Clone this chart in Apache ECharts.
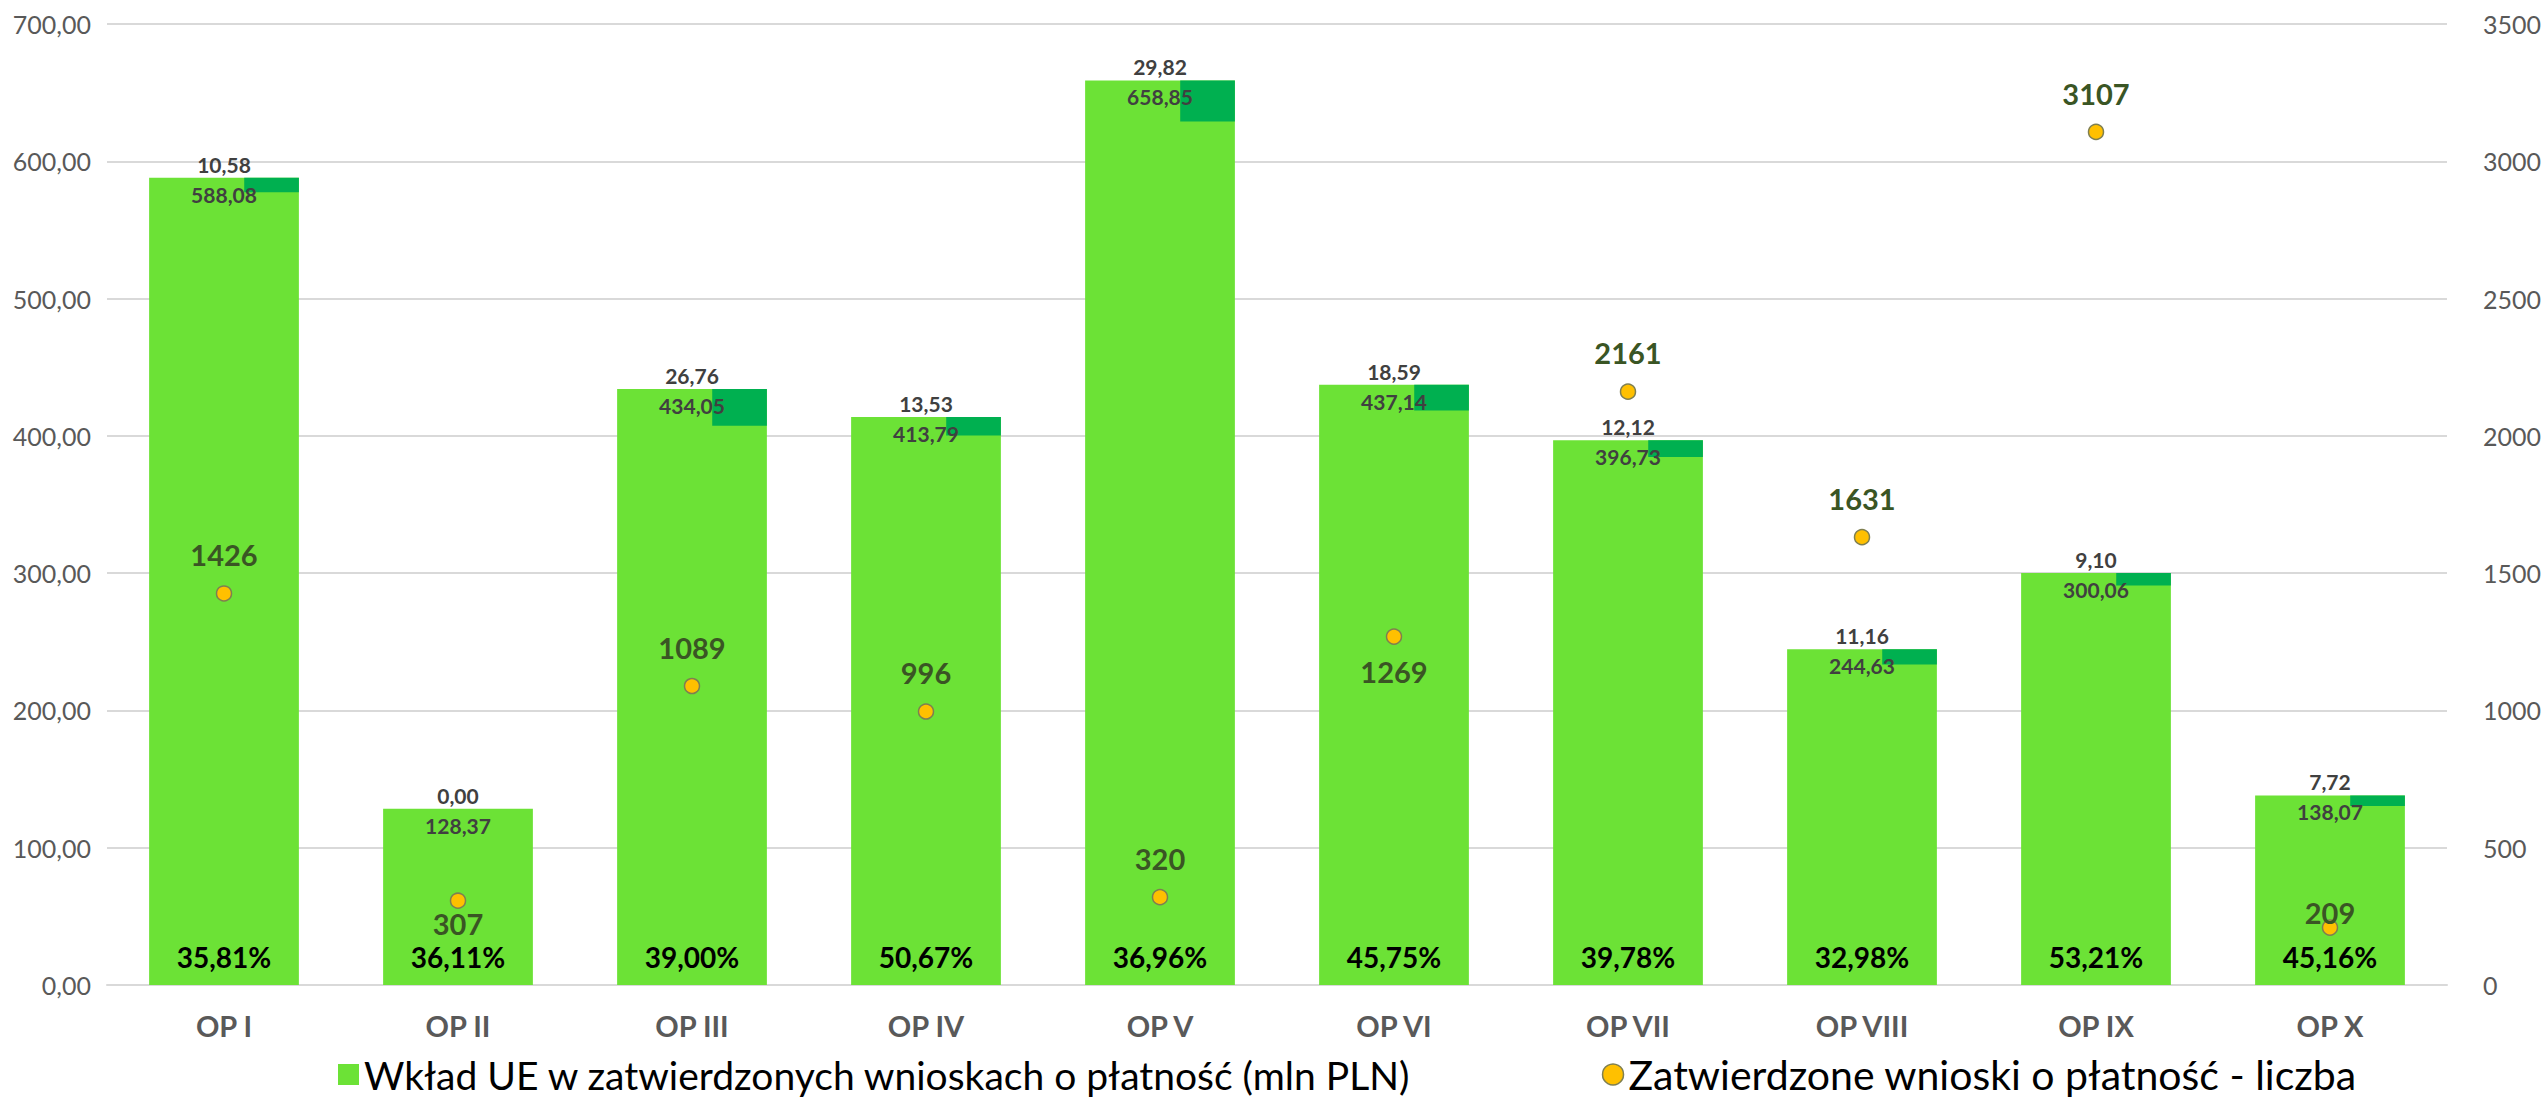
<!DOCTYPE html>
<html>
<head>
<meta charset="utf-8">
<script src="https://cdn.jsdelivr.net/npm/echarts@6/dist/echarts.min.js"></script>
<style>
html,body{margin:0;padding:0;background:#fff;}
#c{width:2544px;height:1108px;}
</style>
</head>
<body>
<div id="c"></div>
<script>
const categories = ['OP I','OP II','OP III','OP IV','OP V','OP VI','OP VII','OP VIII','OP IX','OP X'];
const totals = [588.08,128.37,434.05,413.79,658.85,437.14,396.73,244.63,300.06,138.07];
const darkPart = [10.58,0.00,26.76,13.53,29.82,18.59,12.12,11.16,9.10,7.72];
const percents = ['35,81%','36,11%','39,00%','50,67%','36,96%','45,75%','39,78%','32,98%','53,21%','45,16%'];
const counts = [1426,307,1089,996,320,1269,2161,1631,3107,209];
const leftTicks = [0,100,200,300,400,500,600,700];
const rightTicks = [0,500,1000,1500,2000,2500,3000,3500];
const seriesNames = ['Wkład UE w zatwierdzonych wnioskach o płatność (mln PLN)','Zatwierdzone wnioski o płatność - liczba'];
// label placement style for count labels
const countLabelPos = ['top','bottom','top','top','top','bottom','top','top','top','top'];
const countLabelDist = [16,0,16,16,16,12,16,16,16,-8];

const FONT = 'Lato, "Noto Sans", sans-serif';
const fmt2 = v => v.toFixed(2).replace('.', ',');
const BAR_W = 0.64;
const transparentBar = {type:'bar',barWidth:(BAR_W*100)+'%',barGap:'-100%',itemStyle:{color:'rgba(0,0,0,0)'},silent:true};

const chart = echarts.init(document.getElementById('c'), null, {renderer:'svg'});
const option = {
  animation:false,
  textStyle:{fontFamily:FONT},
  grid:{left:107,right:88,top:24,bottom:123,containLabel:false},
  legend:{
    left:333, bottom:8, itemGap:190, itemWidth:21, itemHeight:21,
    textStyle:{fontSize:39,color:'#000',fontFamily:FONT},
    data:[{name:seriesNames[0],icon:'rect'},
          {name:seriesNames[1],icon:'circle',textStyle:{fontSize:41},itemStyle:{color:'#FFC000',borderColor:'#7F7F50',borderWidth:1.5}}]
  },
  xAxis:{
    type:'category', data:categories,
    axisLine:{show:true,lineStyle:{color:'#d9d9d9',width:2}},
    axisTick:{show:false},
    axisLabel:{fontSize:29,fontWeight:'bold',color:'#595959',margin:26,fontFamily:FONT}
  },
  yAxis:[
    {type:'value',min:leftTicks[0],max:leftTicks[leftTicks.length-1],interval:100,
     axisLine:{show:false},axisTick:{show:false},
     splitLine:{lineStyle:{color:'#d9d9d9',width:2}},
     axisLabel:{fontSize:25,color:'#595959',margin:16,formatter:v=>fmt2(v),fontFamily:FONT}},
    {type:'value',min:rightTicks[0],max:rightTicks[rightTicks.length-1],interval:500,
     axisLine:{show:false},axisTick:{show:false},splitLine:{show:false},
     axisLabel:{fontSize:25,color:'#595959',margin:36,formatter:v=>String(v),fontFamily:FONT}}
  ],
  series:[
    {name:seriesNames[0],type:'bar',data:totals,barWidth:(BAR_W*100)+'%',barGap:'-100%',z:2,
     itemStyle:{color:'#6CE236'}},
    {name:'dark',type:'custom',z:3,
     data:totals.map((t,i)=>[i,t,darkPart[i]]),
     renderItem:function(params,api){
       const idx=api.value(0),t=api.value(1),d=api.value(2);
       const top=api.coord([idx,t]); const bot=api.coord([idx,t-d]);
       const band=api.size([1,0])[0]; const bw=band*BAR_W; const w=bw*0.365;
       return {type:'rect',shape:{x:top[0]+bw/2-w,y:top[1],width:w,height:bot[1]-top[1]},style:{fill:'#00B050'}};
     }},
    Object.assign({name:'inlab',data:totals,z:6,
     label:{show:true,position:'insideTop',distance:6,formatter:p=>fmt2(p.value),overflow:'none',
            fontSize:21,fontWeight:'bold',color:'#404040',fontFamily:FONT}},transparentBar),
    Object.assign({name:'toplab',data:totals,z:6,
     label:{show:true,position:'top',distance:3,formatter:p=>fmt2(darkPart[p.dataIndex]),
            fontSize:21,fontWeight:'bold',color:'#404040',fontFamily:FONT}},transparentBar),
    Object.assign({name:'pct',data:totals,z:6,
     label:{show:true,position:'insideBottom',distance:14,formatter:p=>percents[p.dataIndex],
            fontSize:28,fontWeight:'bold',color:'#000',fontFamily:FONT}},transparentBar),
    {name:seriesNames[1],type:'scatter',yAxisIndex:1,z:7,
     data:counts.map((c,i)=>({value:c,label:{position:countLabelPos[i],distance:countLabelDist[i]}})),
     symbol:'circle',symbolSize:15,
     itemStyle:{color:'#FFC000',borderColor:'#7F7F50',borderWidth:1.5,opacity:1},
     label:{show:true,formatter:p=>String(p.value),fontSize:29,fontWeight:'bold',color:'#3A5524',fontFamily:FONT}}
  ]
};
chart.setOption(option);
</script>
</body>
</html>
